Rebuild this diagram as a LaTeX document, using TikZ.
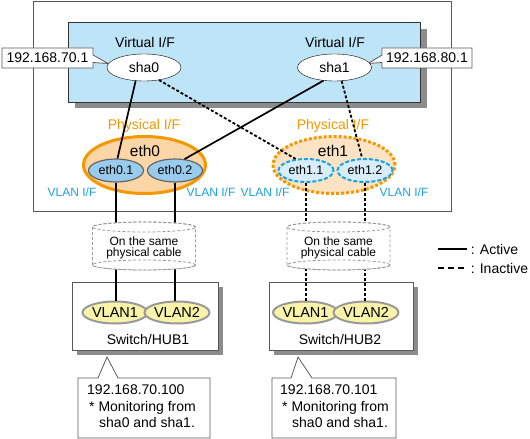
\documentclass[tikz,border=0pt]{standalone}
\usepackage{fontspec}
\setmainfont{Liberation Sans}
\usetikzlibrary{shapes.geometric}
\definecolor{vifblue}{HTML}{BEE4F8}
\definecolor{physorange}{HTML}{F39800}
\definecolor{physfill}{HTML}{FCD6A6}
\definecolor{physpale}{HTML}{FBE3C4}
\definecolor{vlantext}{HTML}{1BA1E2}
\definecolor{ethfill}{HTML}{99CBEC}
\definecolor{ethpale}{HTML}{D7EEFA}
\definecolor{vlanfill}{HTML}{F8F3A9}
\definecolor{shadowgray}{HTML}{8C8C8C}

\begin{document}
\begin{tikzpicture}[x=1bp, y=-1bp,
  every node/.style={inner sep=0pt, font=\fontsize{14bp}{16.5bp}\selectfont},
  small/.style={font=\fontsize{12bp}{11bp}\selectfont},
  virt/.style={ellipse, draw, fill=white, minimum width=74bp, minimum height=27bp},
  phys/.style={ellipse, draw=physorange, line width=3bp, minimum width=122bp, minimum height=57bp},
  vif/.style={ellipse, minimum width=55bp, minimum height=23bp, font=\fontsize{12.5bp}{14bp}\selectfont},
  vlan/.style={ellipse, draw=black!40, line width=2bp, fill=vlanfill, minimum width=60bp, minimum height=22bp, font=\fontsize{14.5bp}{16bp}\selectfont},
  active/.style={line width=1.7bp},
  inactive/.style={line width=1.8bp, dash pattern=on 3bp off 2bp},
  cable/.style={draw=black!40, dash pattern=on 3bp off 2bp, line width=0.8bp},
  frame/.style={draw=black!65, line width=0.8bp},
  shadow/.style={fill=shadowgray}
]
\useasboundingbox (0,0) rectangle (530,439);

% server and virtual interfaces
\draw[frame] (33,1) rectangle (451,211);
\fill[shadow] (75,29) rectangle (427,108);
\draw[frame, draw=black!80, fill=vifblue] (68,22) rectangle (420,102);
\node (vif0) at (145,43) {Virtual I/F};
\node (vif1) at (335,43) {Virtual I/F};
\draw[frame, fill=white] (2,48) -- (93,48) -- (93,55) -- (108,63.5) -- (93,62.5) -- (93,68) -- (2,68) -- cycle;
\draw[frame, fill=white] (472,48) -- (382,48) -- (382,55) -- (368,63.5) -- (382,62.5) -- (382,68) -- (472,68) -- cycle;
\node (ip0) at (47.5,58) {192.168.70.1};
\node (ip1) at (427,58) {192.168.80.1};
\node[virt] (sha0) at (144,67.5) {sha0};
\node[virt] (sha1) at (334.5,67.5) {sha1};

% physical and VLAN interfaces
\node[text=physorange] (ph0) at (144,126) {Physical I/F};
\node[text=physorange] (ph1) at (333,126) {Physical I/F};
\node[phys, fill=physfill] (eth0) at (144.5,165) {};
\node[phys, fill=physpale, dash pattern=on 3bp off 2bp] (eth1) at (334,165) {};
\node[font=\fontsize{15.5bp}{17bp}\selectfont] (eth0t) at (145,151) {eth0};
\node[font=\fontsize{15.5bp}{17bp}\selectfont] (eth1t) at (333,151) {eth1};
\node[vif, draw=black!60, line width=1.2bp, fill=ethfill] (eth01) at (116,170.5) {eth0.1};
\node[vif, draw=black!60, line width=1.2bp, fill=ethfill] (eth02) at (175,170.5) {eth0.2};
\node[vif, draw=vlantext, line width=2bp, dash pattern=on 4bp off 2bp, fill=ethpale] (eth11) at (306,170.5) {eth1.1};
\node[vif, draw=vlantext, line width=2bp, dash pattern=on 4bp off 2bp, fill=ethpale] (eth12) at (365,170.5) {eth1.2};
\node[small, text=vlantext] (vl0) at (72,192) {VLAN I/F};
\node[small, text=vlantext] (vl1) at (211,192) {VLAN I/F};
\node[small, text=vlantext] (vl2) at (265,192) {VLAN I/F};
\node[small, text=vlantext] (vl3) at (404,192) {VLAN I/F};

% switches
\fill[shadow] (77,287) rectangle (223,355);
\draw[frame, fill=white] (72,282) rectangle (218,350);
\fill[shadow] (274,287) rectangle (418,355);
\draw[frame, fill=white] (269,282) rectangle (413,350);
\node[vlan] (h1v1) at (115,312.5) {VLAN1};
\node[vlan] (h1v2) at (177,312.5) {VLAN2};
\node[vlan] (h2v1) at (305.5,312.5) {VLAN1};
\node[vlan] (h2v2) at (366,312.5) {VLAN2};
\node (hub1) at (148,339) {Switch/HUB1};
\node (hub2) at (340,339) {Switch/HUB2};

% connections
\path[active]
  (sha0.-122) edge (eth01.83)
  (sha1.-130) edge (eth02.50)
  (eth01.south) edge (eth01.south |- h1v1.north)
  (eth02.south) edge (eth02.south |- h1v2.north);
\path[inactive]
  (sha0.-40) edge (eth11.132)
  (sha1.-62) edge (eth12.103)
  (eth11.south) edge (eth11.south |- h2v1.north)
  (eth12.south) edge (eth12.south |- h2v2.north);

% cables
\filldraw[cable, fill=white] (92.5,227) -- (92.5,265) arc[start angle=180, end angle=360, x radius=51.5bp, y radius=5bp]
  -- (195.5,227) arc[start angle=0, end angle=180, x radius=51.5bp, y radius=5bp] -- cycle;
\draw[cable] (144,227) ellipse [x radius=51.5bp, y radius=5bp];
\draw[cable] (144,265) ellipse [x radius=51.5bp, y radius=5bp];
\node[small, align=center] (cab1) at (144,248) {On the same\\physical cable};
\filldraw[cable, fill=white] (287,227) -- (287,265) arc[start angle=180, end angle=360, x radius=51.5bp, y radius=5bp]
  -- (390,227) arc[start angle=0, end angle=180, x radius=51.5bp, y radius=5bp] -- cycle;
\draw[cable] (338.5,227) ellipse [x radius=51.5bp, y radius=5bp];
\draw[cable] (338.5,265) ellipse [x radius=51.5bp, y radius=5bp];
\node[small, align=center] (cab2) at (338.5,248) {On the same\\physical cable};

% monitoring notes
\draw[frame, fill=white] (78,378) -- (98,378) -- (107,357) -- (118,378) -- (210,378) -- (210,438) -- (78,438) -- cycle;
\node[anchor=west, align=left] (mon1) at (87,406.5) {192.168.70.100\\\hspace{2bp}* Monitoring from\\\hspace{12bp}sha0 and sha1.};
\draw[frame, fill=white] (272,378) -- (291,378) -- (298,357) -- (312,378) -- (396,378) -- (396,438) -- (272,438) -- cycle;
\node[anchor=west, align=left] (mon2) at (280,406.5) {192.168.70.101\\\hspace{2bp}* Monitoring from\\\hspace{12bp}sha0 and sha1.};

% legend
\coordinate (la0) at (438,249);
\coordinate (la1) at (467,249);
\coordinate (li0) at (438,268);
\coordinate (li1) at (467,268);
\draw[active] (la0) -- (la1) node[right=3bp] (lact) {: Active};
\draw[line width=1.5bp, dash pattern=on 6bp off 4bp] (li0) -- (li1) node[right=3bp] (linact) {: Inactive};
\end{tikzpicture}
\end{document}
